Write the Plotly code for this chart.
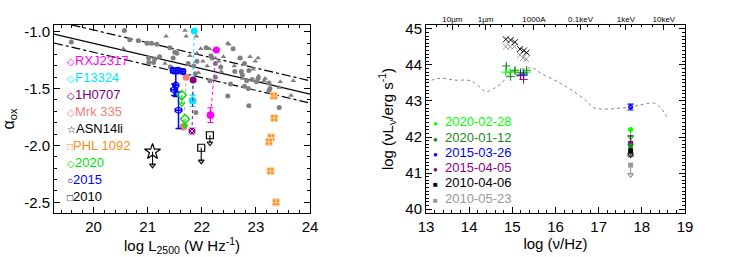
import plotly.graph_objects as go

# ---------------- Left panel: alpha_ox vs log L2500 ----------------
# comparison sample (grey)
samp_circ_x = [19.59, 20.57, 20.67, 20.83, 20.99, 21.07, 21.17, 21.02, 21.02, 21.11, 21.13, 21.22,
               21.41, 21.50, 21.47, 21.42, 21.54, 21.91, 22.08, 22.17, 22.19, 22.25, 22.35, 22.58,
               22.61, 22.71, 22.73, 22.75, 22.79, 22.83, 22.87, 22.93, 23.01, 23.04, 22.53, 22.79,
               22.86, 23.24, 23.26, 23.24, 22.15, 22.25, 22.48, 22.87, 23.43, 21.89, 21.75, 21.85,
               21.88]
samp_circ_y = [-1.09, -0.99, -1.07, -1.08, -1.10, -1.10, -1.11, -1.23, -1.27, -1.27, -1.24, -1.22,
               -1.14, -1.18, -1.23, -1.31, -1.19, -1.26, -1.14, -1.21, -1.23, -1.28, -1.31, -1.15,
               -1.35, -1.23, -1.35, -1.38, -1.28, -1.43, -1.34, -1.42, -1.44, -1.41, -1.46, -1.48,
               -1.50, -1.45, -1.50, -1.52, -1.43, -1.40, -1.565, -1.65, -1.665, -1.71, -1.28, -1.30,
               -1.37]
samp_tri_x = [20.55, 21.34, 21.69, 21.90, 21.98, 22.48, 22.23, 21.91, 22.02, 22.70, 22.89, 23.04,
              22.36, 22.76, 23.17, 23.45, 23.69, 23.65, 21.32, 21.78, 22.31, 22.50, 22.78, 22.99,
              23.05, 23.15, 23.43, 21.94, 22.60, 22.95, 22.40, 22.10, 21.71, 22.14]
samp_tri_y = [-1.15, -1.04, -0.99, -1.04, -1.15, -1.10, -1.16, -1.19, -1.26, -1.23, -1.22, -1.23,
              -1.35, -1.41, -1.41, -1.44, -1.43, -1.56, -1.28, -1.21, -1.26, -1.11, -1.28, -1.26,
              -1.39, -1.43, -1.49, -1.36, -1.30, -1.33, -1.22, -1.30, -1.04, -1.15]

# relation and its scatter
rel_x = [19.27, 24.0]
rel_mid = [-1.02, -1.548]
rel_up = [-0.903, -1.431]
rel_lo = [-1.099, -1.627]

# comparison sources: [high state, low state]
src_names = ["RXJ2317", "F13324", "1H0707", "Mrk 335"]
src_colors = ["#ff00ff", "#00e8ff", "#800080", "#f08080"]
src_x = [[22.27, 22.16], [21.86, 21.83], [21.84, 21.82], [21.71, 21.66]]
src_y = [[-1.161, -1.733], [-0.994, -1.607], [-1.425, -1.873], [-1.40, -1.835]]
src_err = [0.065, 0.05, 0.015, 0.0]

# PHL 1092
phl_x = [23.33, 23.34, 23.28, 23.24, 23.27, 23.37]
phl_y = [-1.565, -1.759, -1.929, -1.967, -2.225, -2.50]

# ASASSN-14li (upper limit)
asn_x = [21.09]
asn_y = [-2.055]
asn_lim = [0.12]

# this source, by epoch
e2015_x = [21.47, 21.56, 21.65, 21.52, 21.49, 21.57]
e2015_y = [-1.34, -1.34, -1.35, -1.47, -1.51, -1.69]
e2015_yerr = [0.02, 0.02, 0.02, 0.10, 0.05, 0.16]
e2015_xerr = [0.04, 0.04, 0.04, 0.05, 0.06, 0.06]
e2020_x = [21.63, 21.69]
e2020_y = [-1.557, -1.768]
e2020_lim = [0.08, 0.06]
e2010_x = [22.15, 21.99]
e2010_y = [-1.91, -2.02]
e2010_lim = [0.07, 0.12]

left_legend = ["RXJ2317", "F13324", "1H0707", "Mrk 335", "ASN14li", "PHL 1092", "2020", "2015", "2010"]
left_legend_sym = ["◇", "◇", "◇", "◇", "☆", "□", "◇", "○", "□"]
left_legend_col = ["#ff00ff", "#00e8ff", "#800080", "#f08080", "#000000", "#ff8c1a", "#00e000",
                   "#0000ff", "#000000"]

# ---------------- Right panel: SED ----------------
tmpl_x = [13.0, 13.19, 13.42, 13.65, 14.04, 14.23, 14.38, 14.58, 14.73, 14.85, 14.97, 15.15,
          15.33, 15.49, 15.66, 16.04, 16.43, 16.74, 16.89, 17.59, 17.97, 18.28, 18.44, 18.58]
tmpl_y = [43.50, 43.60, 43.63, 43.58, 43.56, 43.40, 43.26, 43.35, 43.47, 43.63, 43.80, 43.86,
          43.91, 43.91, 43.77, 43.54, 43.26, 42.98, 42.81, 42.81, 42.89, 42.94, 42.80, 42.56]

uv_a_x = [14.85, 14.95, 15.07, 15.19, 15.26, 15.33]   # 2020-02-28
uv_a_y = [43.80, 43.80, 43.83, 43.79, 43.75, 43.80]
uv_b_x = [14.86, 14.96, 15.06, 15.19, 15.26, 15.33]   # 2020-01-12
uv_b_y = [43.97, 43.68, 43.85, 43.78, 43.78, 43.85]
uv_c_x = [15.19, 15.26]                               # 2015-03-26
uv_c_y = [43.72, 43.72]
uv_d_x = [15.19, 15.26]                               # 2015-04-05
uv_d_y = [43.70, 43.60]
uv_e_x = [14.85, 14.96, 15.06, 15.18, 15.27, 15.33]   # 2010-04-06
uv_e_y = [44.71, 44.69, 44.63, 44.44, 44.40, 44.34]
uv_f_x = [14.85, 14.95, 15.05, 15.18, 15.25, 15.32]   # 2010-05-23
uv_f_y = [44.51, 44.51, 44.51, 44.28, 44.19, 44.16]
uv_err = 0.07

xr_nu = 17.74
xr_a_y = 42.21   # 2020-02-28 (limit)
xr_b_y = 41.75   # 2020-01-12
xr_c_y = 42.83   # 2015-03-26
xr_d_y = 41.82   # 2015-04-05
xr_e_y = 41.62   # 2010-04-06 (limit)
xr_f_y = 41.22   # 2010-05-23 (limit)

right_legend = ["2020-02-28", "2020-01-12", "2015-03-26", "2015-04-05", "2010-04-06", "2010-05-23"]
right_legend_sym = ["●", "●", "●", "●", "■", "■"]
right_legend_col = ["#00ff00", "#1a8c1a", "#0000ff", "#8b008b", "#000000", "#999999"]

top_tick_vals = [13.61, 14.38, 15.50, 16.58, 17.63, 18.51]
top_tick_text = ["10µm", "1µm", "1000A", "0.1keV", "1keV", "10keV"]

FONT = "Liberation Sans, Arial, sans-serif"
GREY = "#808080"

fig = go.Figure()


def add_limits(xs, ys, lens, col, xa, ya):
    """Upper limits: a stem drawn downwards from each value, ending in an open arrow head."""
    fig.add_trace(go.Scatter(x=xs, y=ys, mode="markers", marker=dict(size=0, opacity=0),
                             error_y=dict(type="data", symmetric=False, array=[0] * len(xs), arrayminus=lens,
                                          color=col, thickness=1.1, width=0),
                             showlegend=False, hoverinfo="skip", xaxis=xa, yaxis=ya))
    fig.add_trace(go.Scatter(x=xs, y=[a - b for a, b in zip(ys, lens)], mode="markers",
                             marker=dict(symbol="triangle-down-open", size=5, color=col, line=dict(width=1.1)),
                             showlegend=False, hoverinfo="skip", xaxis=xa, yaxis=ya))


# ---- left traces ----
for yy, dash in [(rel_mid, "solid"), (rel_up, "dashdot"), (rel_lo, "dashdot")]:
    fig.add_trace(go.Scatter(x=rel_x, y=yy, mode="lines", line=dict(color="black", width=1.2, dash=dash),
                             showlegend=False, xaxis="x", yaxis="y"))
fig.add_trace(go.Scatter(x=samp_circ_x, y=samp_circ_y, mode="markers",
                         marker=dict(symbol="circle", size=5, color=GREY), showlegend=False))
fig.add_trace(go.Scatter(x=samp_tri_x, y=samp_tri_y, mode="markers",
                         marker=dict(symbol="triangle-up", size=5, color=GREY), showlegend=False))

for name, col, sx, sy, se in zip(src_names, src_colors, src_x, src_y, src_err):
    fig.add_trace(go.Scatter(x=sx, y=sy, mode="lines", line=dict(color=col, width=1, dash="dot"),
                             showlegend=False))
    fig.add_trace(go.Scatter(x=[sx[0]], y=[sy[0]], mode="markers",
                             marker=dict(symbol="circle", size=7, color=col), showlegend=False))
    sym = "square-x" if name == "1H0707" else "circle"
    fig.add_trace(go.Scatter(x=[sx[1]], y=[sy[1]], mode="markers",
                             marker=dict(symbol=sym, size=7, color=col,
                                         line=dict(color="#e0b0e0" if name == "1H0707" else col, width=1)),
                             error_y=dict(type="data", array=[se], color=col, thickness=1.2, width=3,
                                          visible=se > 0),
                             showlegend=False))

fig.add_trace(go.Scatter(x=phl_x, y=phl_y, mode="markers",
                         marker=dict(symbol="square-cross", size=7, color="#ff8c1a",
                                     line=dict(color="#ffd8b0", width=1)), showlegend=False))

fig.add_trace(go.Scatter(x=e2015_x, y=e2015_y, mode="markers",
                         marker=dict(symbol="circle-open", size=6, color="#0000ff", line=dict(width=1.2)),
                         error_y=dict(type="data", array=e2015_yerr, color="#0000ff", thickness=1.5, width=3),
                         error_x=dict(type="data", array=e2015_xerr, color="#0000ff", thickness=1.5, width=2),
                         showlegend=False))
add_limits(e2020_x, e2020_y, e2020_lim, "#00e000", "x", "y")
fig.add_trace(go.Scatter(x=e2020_x, y=e2020_y, mode="markers",
                         marker=dict(symbol="diamond-open", size=7, color="#00e000", line=dict(width=1.4)),
                         showlegend=False))
add_limits(e2010_x, e2010_y, e2010_lim, "#000000", "x", "y")
fig.add_trace(go.Scatter(x=e2010_x, y=e2010_y, mode="markers",
                         marker=dict(symbol="square-open", size=7, color="#000000", line=dict(width=1.2)),
                         showlegend=False))
add_limits(asn_x, asn_y, asn_lim, "#000000", "x", "y")
fig.add_trace(go.Scatter(x=asn_x, y=asn_y, mode="markers",
                         marker=dict(symbol="star-open", size=12, color="#000000", line=dict(width=1.2)),
                         showlegend=False))

# ---- right traces ----
# the template curve is attached to the top (wavelength / energy) axis, which shares the range of x2
fig.add_trace(go.Scatter(x=tmpl_x, y=tmpl_y, mode="lines", line=dict(color="#888888", width=1, dash="dot"),
                         line_shape="spline", showlegend=False, xaxis="x3", yaxis="y2"))

for xs, ys, col, sym in [(uv_f_x, uv_f_y, "#999999", "x-thin"), (uv_e_x, uv_e_y, "#000000", "x-thin"),
                         (uv_a_x, uv_a_y, "#00ff00", "cross-thin"), (uv_b_x, uv_b_y, "#1a8c1a", "cross-thin"),
                         (uv_c_x, uv_c_y, "#0000ff", "cross-thin"), (uv_d_x, uv_d_y, "#8b008b", "cross-thin")]:
    fig.add_trace(go.Scatter(x=xs, y=ys, mode="markers",
                             marker=dict(symbol=sym, size=6, color=col, line=dict(color=col, width=1)),
                             error_y=dict(type="data", array=[uv_err] * len(xs), color=col, thickness=1, width=0)
                             if "cross" in sym else None,
                             showlegend=False, xaxis="x2", yaxis="y2"))

add_limits([xr_nu], [xr_a_y], [0.22], "#00ff00", "x2", "y2")
add_limits([xr_nu], [xr_e_y], [0.12], "#000000", "x2", "y2")
add_limits([xr_nu], [xr_f_y], [0.27], "#999999", "x2", "y2")
xr_sets = [(xr_c_y, "#0000ff", "circle", 0.08, 0.08), (xr_d_y, "#8b008b", "square", 0.21, 0.35),
           (xr_b_y, "#1a8c1a", "circle", 0.05, 0.27), (xr_a_y, "#00ff00", "circle", 0, 0),
           (xr_e_y, "#000000", "square", 0, 0), (xr_f_y, "#999999", "square", 0, 0)]
for yv, col, sym, ep, em in xr_sets:
    fig.add_trace(go.Scatter(x=[xr_nu], y=[yv], mode="markers",
                             marker=dict(symbol=sym, size=5, color=col),
                             error_y=dict(type="data", symmetric=False, array=[ep], arrayminus=[em], color=col,
                                          thickness=1.2, width=3, visible=(ep + em) > 0),
                             showlegend=False, xaxis="x2", yaxis="y2"))

# ---- legends as text ----
annotations = []
for i, (t, s, c) in enumerate(zip(left_legend, left_legend_sym, left_legend_col)):
    annotations.append(dict(x=0.088, y=1 - (60 + 17.1 * i) / 257, xref="paper", yref="paper",
                            xanchor="left", yanchor="middle", showarrow=False,
                            text=f"<span style='font-size:10px'>{s}</span>{t}",
                            font=dict(family=FONT, size=13, color=c)))
for i, (t, s, c) in enumerate(zip(right_legend, right_legend_sym, right_legend_col)):
    annotations.append(dict(x=0.582, y=1 - (121.7 + 15.3 * i) / 257, xref="paper", yref="paper",
                            xanchor="left", yanchor="middle", showarrow=False,
                            text=f"<span style='font-size:8px'>{s}</span>  {t}",
                            font=dict(family=FONT, size=13, color=c)))

axis_common = dict(showgrid=False, zeroline=False, showline=True, linecolor="black", linewidth=1,
                   mirror="ticks", ticks="inside", ticklen=6, tickwidth=1, tickcolor="black",
                   automargin=False, tickfont=dict(family=FONT, size=15, color="black"))

fig.update_layout(
    width=741, height=257, margin=dict(l=0, r=0, t=0, b=0),
    paper_bgcolor="white", plot_bgcolor="white", showlegend=False,
    font=dict(family=FONT, color="black"),
    xaxis=dict(**axis_common, domain=[0.0729, 0.4184], anchor="y", range=[19.27, 24.0],
               tickvals=[20, 21, 22, 23, 24], minor=dict(dtick=0.2, ticks="inside", ticklen=3),
               title=dict(text="log L<sub>2500</sub> (W Hz<sup>-1</sup>)", font=dict(size=15), standoff=3)),
    yaxis=dict(**axis_common, domain=[0.171, 0.903], anchor="x", range=[-2.594, -0.94],
               tickvals=[-2.5, -2.0, -1.5, -1.0], ticktext=["-2.5", "-2.0", "-1.5", "-1.0"],
               minor=dict(dtick=0.1, ticks="inside", ticklen=3),
               title=dict(text="α<sub>ox</sub>", font=dict(size=16), standoff=6)),
    xaxis2=dict(**{**axis_common, "mirror": True}, domain=[0.5749, 0.9244], anchor="y2", range=[13, 19],
                tickvals=[13, 14, 15, 16, 17, 18, 19], minor=dict(dtick=0.2, ticks="inside", ticklen=3),
                title=dict(text="log (ν/Hz)", font=dict(size=15), standoff=3)),
    yaxis2=dict(**axis_common, domain=[0.171, 0.903], anchor="x2", range=[39.89, 45.11],
                tickvals=[40, 41, 42, 43, 44, 45], minor=dict(dtick=0.1, ticks="inside", ticklen=3),
                title=dict(text="log (νL<sub>ν</sub>/erg s<sup>-1</sup>)", font=dict(size=15), standoff=8)),
    xaxis3=dict(overlaying="x2", side="top", anchor="y2", range=[13, 19], showgrid=False, zeroline=False,
                automargin=False, showticklabels=True, tickmode="array",
                tickvals=top_tick_vals, ticktext=top_tick_text, ticks="inside", ticklen=5,
                tickcolor="black", tickfont=dict(family=FONT, size=8, color="black"),
                minor=dict(dtick=0.25, ticks="inside", ticklen=2)),
    annotations=annotations,
)

fig.write_html("out.html", config={"displayModeBar": False},
               post_script="document.body.style.margin='0';document.body.style.padding='0';")
